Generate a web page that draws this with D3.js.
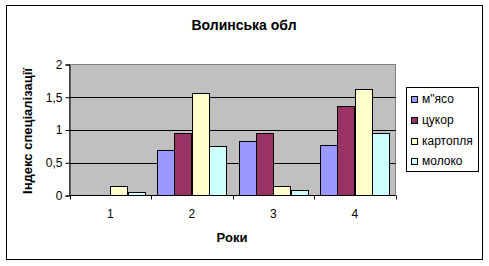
<!DOCTYPE html>
<html><head><meta charset="utf-8">
<script src="https://cdn.jsdelivr.net/npm/d3@7"></script>
<style>body{margin:0;background:#fff}svg{display:block}text{font-family:"Liberation Sans",Arial,sans-serif}</style>
</head><body><svg id="c" width="489" height="266"></svg>
<script>
const categories = ["1","2","3","4"];
const seriesNames = ["м\"ясо","цукор","картопля","молоко"];
const meat = [0, 0.70, 0.83, 0.77];
const sugar = [0, 0.96, 0.96, 1.36];
const potato = [0.14, 1.57, 0.14, 1.63];
const milk = [0.05, 0.75, 0.08, 0.95];
const yTicks = [0, 0.5, 1, 1.5, 2];
const colors = ["#9999FF","#993366","#FFFFCC","#CCFFFF"];
const series = [meat, sugar, potato, milk];

const svg = d3.select("#c");
svg.append("rect").attr("x",6.5).attr("y",5.5).attr("width",476).attr("height",254).attr("fill","#fff").attr("stroke","#000").attr("stroke-width",1);

const L=69.5, R=395.5, T=64.5, B=195.5;
const x = d3.scaleBand().domain(categories).range([L,R]).paddingInner(0).paddingOuter(0);
const xi = d3.scaleBand().domain(d3.range(4)).range([0,x.bandwidth()]).paddingOuter(0.36).paddingInner(0);
const y = d3.scaleLinear().domain([0,2]).range([B,T]);

svg.append("rect").attr("x",L).attr("y",T).attr("width",R-L).attr("height",B-T).attr("fill","#C0C0C0").attr("stroke","#808080");
svg.append("g").selectAll("line").data(yTicks.filter(d=>d>0 && d<2)).join("line")
  .attr("x1",L).attr("x2",R).attr("y1",d=>Math.round(y(d))+0.5).attr("y2",d=>Math.round(y(d))+0.5).attr("stroke","#000");

const g = svg.append("g");
series.forEach((s,si)=>{
  g.append("g").selectAll("rect").data(s.map((v,i)=>({v,c:categories[i]})).filter(d=>d.v>0)).join("rect")
    .attr("x",d=>Math.round(x(d.c)+xi(si))+0.5).attr("width",Math.round(xi.bandwidth()))
    .attr("y",d=>Math.round(y(d.v))+0.5).attr("height",d=>B-Math.round(y(d.v))-0.5)
    .attr("fill",colors[si]).attr("stroke","#000").attr("stroke-width",1);
});

// Axes
const yAxis = svg.append("g").attr("transform",`translate(${L},0)`).call(d3.axisLeft(y).tickValues(yTicks).tickSize(4).tickPadding(3).tickFormat(d=>String(d).replace(".",",")));
yAxis.select(".domain").attr("stroke","#000");
yAxis.selectAll("text").attr("font-size",12).attr("fill","#000").attr("font-family","Liberation Sans, Arial");

const xb = svg.append("g").attr("transform",`translate(0,${B})`);
xb.append("line").attr("x1",L).attr("x2",R).attr("stroke","#000");
xb.selectAll(".t").data(d3.range(5)).join("line").attr("class","t")
  .attr("x1",i=>Math.round(L+i*x.step())+0.5).attr("x2",i=>Math.round(L+i*x.step())+0.5).attr("y1",0).attr("y2",4).attr("stroke","#000");
xb.selectAll("text").data(categories).join("text")
  .attr("x",d=>x(d)+x.bandwidth()/2).attr("y",22).attr("text-anchor","middle").attr("font-size",12).text(d=>d);

svg.append("text").attr("x",244).attr("y",30).attr("text-anchor","middle").attr("font-size",14).attr("font-weight","bold").text("Волинська обл");
svg.append("text").attr("x",232).attr("y",242).attr("text-anchor","middle").attr("font-size",13).attr("font-weight","bold").text("Роки");
svg.append("text").attr("transform","translate(32,131) rotate(-90)").attr("text-anchor","middle").attr("font-size",13).attr("font-weight","bold").text("Індекс спеціалізації");

// Legend
const lg = svg.append("g");
lg.append("rect").attr("x",406.5).attr("y",87.5).attr("width",72).attr("height",84).attr("fill","#fff").attr("stroke","#000");
seriesNames.forEach((n,i)=>{
  const cy = 99 + i*20.8;
  lg.append("rect").attr("x",411.5).attr("y",Math.round(cy-3)+0.5).attr("width",6).attr("height",6).attr("fill",colors[i]).attr("stroke","#000");
  lg.append("text").attr("x",422).attr("y",cy+4).attr("font-size",12).text(n);
});
</script></body></html>
